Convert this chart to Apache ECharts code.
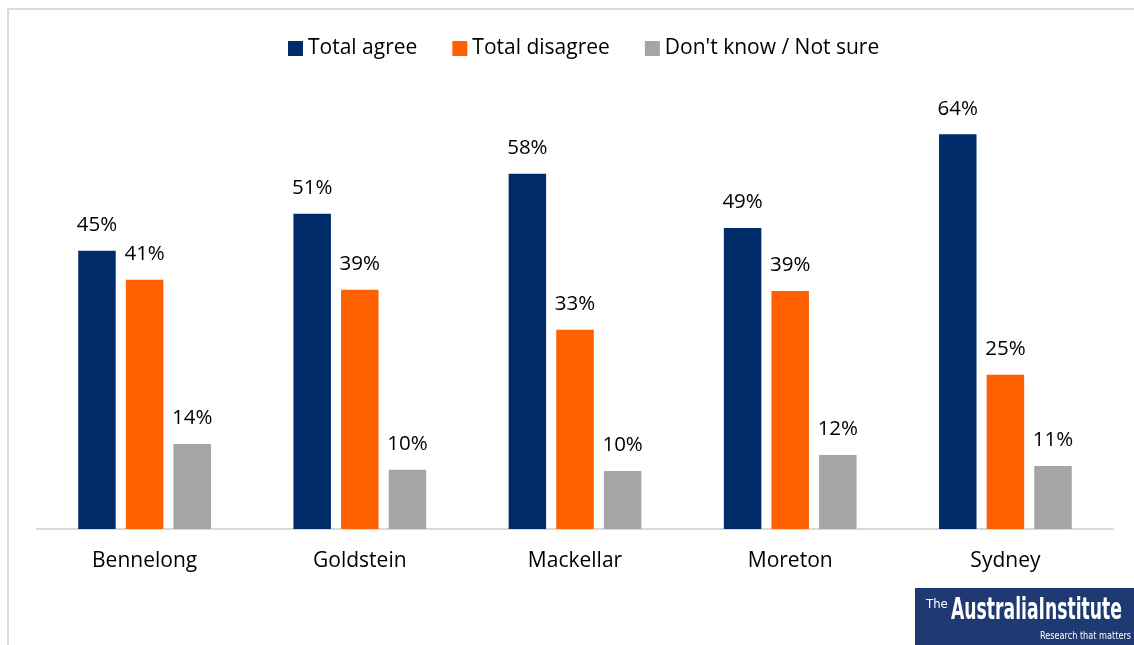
<!DOCTYPE html>
<html>
<head>
<meta charset="utf-8">
<script src="https://cdn.jsdelivr.net/npm/echarts@6/dist/echarts.min.js"></script>
<style>
html,body{margin:0;padding:0;background:#fff;}
#chart{width:1134px;height:645px;}
</style>
</head>
<body>
<div id="chart"></div>
<script>
const categories = ['Bennelong', 'Goldstein', 'Mackellar', 'Moreton', 'Sydney'];
const seriesNames = ['Total agree', 'Total disagree', "Don't know / Not sure"];
const totalAgree = [45.1, 51.1, 57.6, 48.8, 64.0];
const totalDisagree = [40.4, 38.8, 32.3, 38.6, 25.0];
const dontKnow = [13.8, 9.6, 9.4, 12.0, 10.2];
const agreeLabels = ['45%', '51%', '58%', '49%', '64%'];
const disagreeLabels = ['41%', '39%', '33%', '39%', '25%'];
const dontKnowLabels = ['14%', '10%', '10%', '12%', '11%'];
const colors = ['#002D6A', '#FF6100', '#A5A5A5'];

const FONT = '"Open Sans", Lato, sans-serif';
const chart = echarts.init(document.getElementById('chart'));

// fit logo text widths
const cv = document.createElement('canvas').getContext('2d');
function fitScale(text, font, target) {
  cv.font = font;
  return target / cv.measureText(text).width;
}
const logoFont = 'bold 30px "DejaVu Sans Condensed", sans-serif';
const logoScale = fitScale('AustraliaInstitute', logoFont, 171);
const subFont = '11px "DejaVu Sans Condensed", sans-serif';
const subScale = fitScale('Research that matters', subFont, 91);

function mk(name, data, labels, color) {
  return {
    name: name,
    type: 'bar',
    data: data,
    barWidth: 37.5,
    barGap: '27%',
    itemStyle: { color: color },
    label: {
      show: true,
      position: 'top',
      distance: 15,
      color: '#000',
      fontFamily: FONT,
      fontSize: 20.5,
      formatter: p => labels[p.dataIndex]
    }
  };
}

chart.setOption({
  animation: false,
  color: colors,
  legend: {
    top: 33,
    left: 283,
    itemWidth: 15,
    itemHeight: 15,
    itemGap: 35,
    icon: 'rect',
    textStyle: { fontFamily: FONT, fontSize: 21, color: '#000' },
    data: seriesNames
  },
  grid: { left: 37, right: 21, top: 97.3, bottom: 116, containLabel: false },
  xAxis: {
    type: 'category',
    data: categories,
    axisLine: { lineStyle: { color: '#d9d9d9', width: 2 } },
    axisTick: { show: false },
    axisLabel: { fontFamily: FONT, fontSize: 21, color: '#000', margin: 22 }
  },
  yAxis: {
    type: 'value',
    min: 0,
    max: 70,
    show: false,
    splitLine: { show: false }
  },
  series: [
    mk(seriesNames[0], totalAgree, agreeLabels, colors[0]),
    mk(seriesNames[1], totalDisagree, disagreeLabels, colors[1]),
    mk(seriesNames[2], dontKnow, dontKnowLabels, colors[2])
  ],
  graphic: [
    { type: 'rect', shape: { x: 8, y: 9, width: 1140, height: 650 }, style: { fill: 'none', stroke: '#dcdcdc', lineWidth: 2 }, silent: true },
    { type: 'rect', shape: { x: 915, y: 588, width: 230, height: 60 }, style: { fill: '#1F3A73' }, silent: true },
    { type: 'text', x: 926, y: 598, style: { text: 'The', fill: '#fff', font: '13px "DejaVu Sans Condensed", sans-serif' }, silent: true },
    { type: 'text', x: 951, y: 596, scaleX: logoScale, style: { text: 'AustraliaInstitute', fill: '#fff', font: logoFont }, silent: true },
    { type: 'text', x: 1040, y: 631, scaleX: subScale, style: { text: 'Research that matters', fill: '#fff', font: subFont }, silent: true }
  ]
});
</script>
</body>
</html>
